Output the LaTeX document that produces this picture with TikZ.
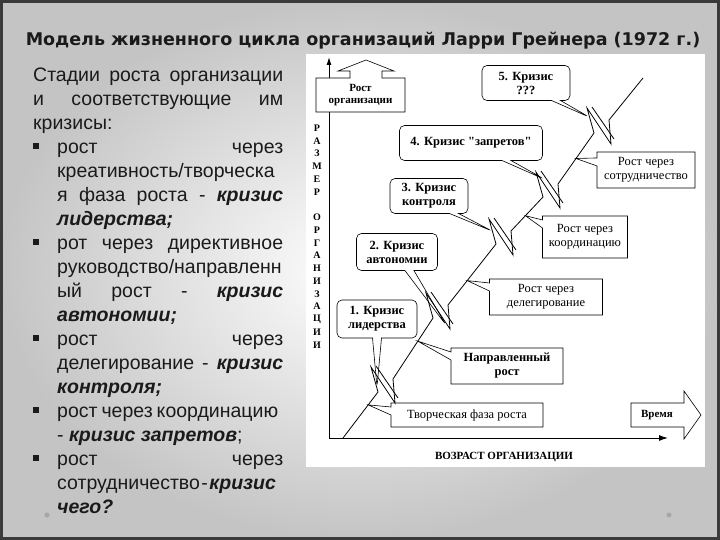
\documentclass[tikz,border=0pt]{standalone}
\usepackage{fontspec}
\setmainfont{Liberation Sans}
\newfontfamily\serifch{Liberation Serif}
\newfontfamily\titlefnt{DejaVu Sans}
\usetikzlibrary{positioning,arrows.meta,shapes.callouts,calc}
\definecolor{slidegray}{HTML}{C4C4C4}
\definecolor{framegray}{HTML}{3A3A3A}
\definecolor{inkc}{HTML}{1A1A1A}
\newcommand{\kr}[1]{\textbf{\textit{#1}}}
\newcommand{\bul}{\hangindent=24pt\hangafter=1\noindent\makebox[24pt][l]{\rule[4.5pt]{6pt}{6pt}}}

\begin{document}
\begin{tikzpicture}[
  x=1pt, y=-1pt,
  lefttext/.style={text width=250pt, inner sep=0pt, anchor=north west, text=inkc,
    font=\fontsize{19.5}{24}\selectfont, align=justify},
  ttl/.style={font=\titlefnt\bfseries\fontsize{17.5}{20}\selectfont, text=inkc},
  crisis/.style={rectangle callout, draw, rounded corners=5pt, line width=0.6pt,
    font=\serifch\bfseries\fontsize{12.5}{14}\selectfont, align=center,
    callout pointer width=9pt, inner sep=1pt},
  growthbox/.style={rectangle callout, draw, line width=0.6pt,
    font=\serifch\fontsize{12.5}{14}\selectfont, align=center,
    callout pointer width=8pt, inner sep=1pt},
  growth/.style={line width=0.8pt},
  axis/.style={line width=1pt},
  axlbl/.style={font=\serifch\bfseries\fontsize{10}{10}\selectfont},
  blockarrow/.style={draw, line width=0.6pt, fill=white},
  blocklbl/.style={font=\serifch\bfseries\fontsize{11}{12.5}\selectfont, align=center},
  dot/.style={circle, fill=gray!70, inner sep=0pt, minimum size=5pt}
]
  \useasboundingbox (0,0) rectangle (720,540);

  % --- slide ---
  \shade[inner color=white, outer color=slidegray] (0,0) rectangle (720,540);
  \draw[framegray, line width=3pt] (1.5,1.5) rectangle (718.5,538.5);
  \node[dot] (d1) at (47,515) {};
  \node[dot] (d2) at (669,515) {};

  \node[ttl] (title) at (363,41) {Модель жизненного цикла организаций Ларри Грейнера (1972 г.)};

  % --- left text ---
  \node[lefttext] (txt) at (33,68) {\parindent=0pt\hyphenpenalty=10000\exhyphenpenalty=10000\tolerance=10000\hbadness=10000
    Стадии роста организации\linebreak и соответствующие им\linebreak кризисы:\par
    \bul рост через\linebreak креативность/творческа\linebreak я фаза роста - \kr{кризис}\linebreak \kr{лидерства;}\par
    \bul рот через директивное\linebreak руководство/направленн\linebreak ый рост - \kr{кризис}\linebreak \kr{автономии;}\par
    \bul рост через\linebreak делегирование - \kr{кризис}\linebreak \kr{контроля;}\par
    \bul рост\kern4pt через\kern4pt координацию\linebreak - \kr{кризис запретов};\par
    \bul рост через\linebreak сотрудничество\kern1.5pt-\kern1.5pt\kr{кризис}\linebreak \kr{чего?}\par};

  % --- chart ---
  \fill[white] (306,54) rectangle (705,467);

  \coordinate (ytop) at (329,57);
  \coordinate (xend) at (668,438);
  \draw[axis, {Latex[length=8pt,width=5pt]}-{Latex[length=9pt,width=6pt]}] (ytop) |- (xend);

  \foreach \l [count=\i from 0] in {Р,А,З,М,Е,Р,{},О,Р,Г,А,Н,И,З,А,Ц,И,И}
    {\node[axlbl] (v\i) at (317,{128+12.76*\i}) {\l};}
  \node[font=\serifch\bfseries\fontsize{11}{12}\selectfont] (xlbl) at (504,457) {ВОЗРАСТ ОРГАНИЗАЦИИ};

  % block arrows
  \draw[blockarrow] (316,112) -- (316,78) -- (350,78) -- (350,71) -- (338,71) -- (366,60)
    -- (394,71) -- (382,71) -- (382,78) -- (405,78) -- (405,112) -- cycle;
  \node[blocklbl] (rostorg) at (360.5,95) {Рост\\организации};
  \draw[blockarrow] (631,403) -- (684,403) -- (684,391) -- (701,415) -- (684,439)
    -- (684,427) -- (631,427) -- cycle;
  \node[blocklbl] (vremya) at (657,415) {Время};

  % growth line with crises
  \coordinate (g0) at (343,438);
  \coordinate (c1) at (383,385);
  \coordinate (c2) at (438,311);
  \coordinate (c3) at (501,237);
  \coordinate (c4) at (548,190);
  \coordinate (c5) at (599,126);
  \coordinate (g6) at (643,78);
  \foreach \i in {1,...,5} {
    \coordinate (l\i) at ($(c\i)+(-5,7)$);
    \coordinate (u\i) at ($(c\i)+(10,-6)$);
    \draw[growth] (l\i) -- ($(c\i)+(-12,-18)$) -- ($(c\i)+(12,18)$) -- (u\i);
    \draw[growth] ($(c\i)+(-7,-19)$) -- ($(c\i)+(15,13)$);
  }
  \foreach \a/\b in {g0/l1,u1/l2,u2/l3,u3/l4,u4/l5,u5/g6}
    {\draw[growth] (\a) -- (\b);}

  % pointer tips
  \coordinate (tA) at ($(g0)!0.72!(l1)$);
  \coordinate (tB) at ($(u1)!0.62!(l2)$);
  \coordinate (tC) at ($(u2)!0.40!(l3)$);
  \coordinate (tD) at ($(u3)!0.45!(l4)$);
  \coordinate (tE) at ($(u4)!0.5!(l5)$);
  \coordinate (k1) at ($(c1)+(-6,2)$);
  \coordinate (k2) at ($(c2)+(8,14)$);
  \coordinate (k3) at ($(c3)+(-9,-6)$);
  \coordinate (k4) at ($(c4)+(-4,-11)$);
  \coordinate (k5) at ($(c5)+(-10,-9)$);

  % crises
  \node[crisis, minimum width=80pt, minimum height=38pt, callout absolute pointer={(k1)}] (cr1) at (377,319) {1. Кризис\\лидерства};
  \node[crisis, minimum width=81pt, minimum height=37pt, callout absolute pointer={(k2)}] (cr2) at (397,252) {2. Кризис\\автономии};
  \node[crisis, minimum width=78pt, minimum height=35pt, callout absolute pointer={(k3)}] (cr3) at (429,196) {3. Кризис\\контроля};
  \node[crisis, minimum width=143pt, minimum height=35pt, callout absolute pointer={(k4)}] (cr4) at (471,143) {4. Кризис "запретов"};
  \node[crisis, minimum width=88pt, minimum height=35pt, callout absolute pointer={(k5)}] (cr5) at (526,83) {5. Кризис\\???};

  % growth phases
  \node[growthbox, minimum width=152pt, minimum height=24pt, callout absolute pointer={(tA)}] (grA) at (467,415) {Творческая фаза роста};
  \node[growthbox, font=\serifch\bfseries\fontsize{12.5}{14}\selectfont, minimum width=112pt, minimum height=36pt, callout absolute pointer={(tB)}] (grB) at (507,366) {Направленный\\рост};
  \node[growthbox, minimum width=113pt, minimum height=36pt, callout absolute pointer={(tC)}] (grC) at (546,297) {Рост через\\делегирование};
  \node[growthbox, minimum width=85pt, minimum height=42pt, callout absolute pointer={(tD)}] (grD) at (585,237) {Рост через\\координацию};
  \node[growthbox, minimum width=98pt, minimum height=36pt, callout absolute pointer={(tE)}] (grE) at (646,170) {Рост через\\сотрудничество};
\end{tikzpicture}
\end{document}
